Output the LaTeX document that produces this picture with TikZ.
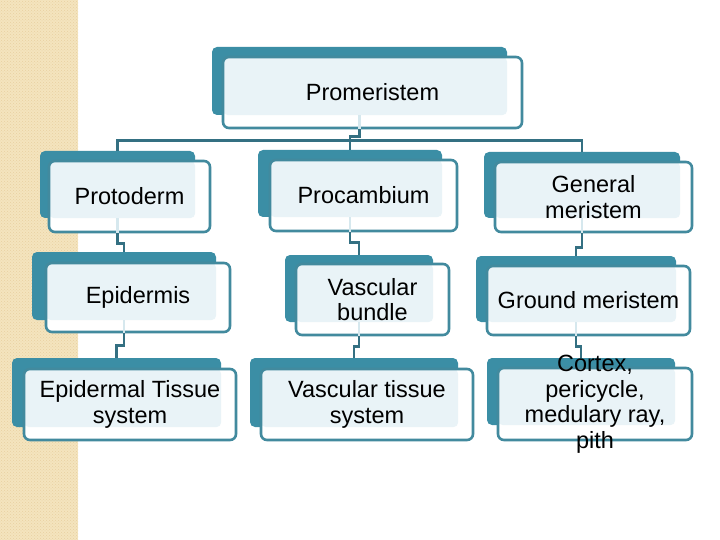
\documentclass[tikz,border=0pt]{standalone}
\usepackage{fontspec}
\setmainfont{Liberation Sans}
\usetikzlibrary{fit,patterns}
\definecolor{tealback}{RGB}{59,142,165}
\definecolor{tealedge}{RGB}{66,138,158}
\definecolor{connc}{RGB}{52,112,130}
\definecolor{lightfill}{RGB}{233,243,247}
\definecolor{palec}{RGB}{214,232,238}
\definecolor{stripc}{RGB}{244,228,190}
\definecolor{stripdot}{RGB}{232,208,160}
\tikzset{
  backbox/.style={fill=tealback, rounded corners=5pt, inner sep=0pt, draw=none},
  frontbox/.style={draw=tealedge, line width=2.6pt, rounded corners=6pt, inner sep=0pt},
  txt/.style={font=\fontsize{23.5}{25.5}\selectfont, align=center, inner sep=0pt},
  conn/.style={draw=connc, line width=2.6pt},
  paleconn/.style={draw=palec, line width=2.6pt},
}
\newcommand\tbox[6]{%
  \node[backbox, fit={(#2)(#3)}] (#1B) {};
  \fill[white, rounded corners=6pt] (#4) rectangle (#5);
  \fill[lightfill, rounded corners=5pt] (#4) rectangle (#1B.south east);
  \node[frontbox, fit={(#4)(#5)}] (#1F) {};
  \node[txt] (#1) at (#1F.center) {#6};
}
\begin{document}
\begin{tikzpicture}[x=1pt,y=-1pt]
\useasboundingbox (0,0) rectangle (720,540);
\fill[white] (0,0) rectangle (720,540);
\fill[stripc] (0,0) rectangle (78,540);
\fill[pattern=crosshatch dots, pattern color=stripdot] (0,0) rectangle (78,540);

\tbox{prom}{212,47}{507,115}{223,57}{522,128}{Promeristem}

\tbox{prot}{40,151}{195,218}{49,161}{210,232}{Protoderm}
\tbox{proc}{258,150}{442,217}{270,160}{457,231}{Procambium}
\tbox{gen}{484,152}{680,218}{495,162}{692,232}{General\\meristem}

\tbox{epi}{32,252}{216,320}{46,263}{230,332}{Epidermis}
\tbox{vb}{285,255}{433,322}{296,264}{449,335}{Vascular\\bundle}
\tbox{gm}{476,256}{676,322}{487,266}{690,335}{Ground meristem}

\tbox{ets}{12,358}{221,427}{24,369}{236,440}{Epidermal Tissue\\system}
\tbox{vts}{250,358}{458,427}{261,369}{473,440}{Vascular tissue\\system}
\tbox{cor}{487,358}{675,425}{498,368}{692,440}{Cortex,\\pericycle,\\medulary ray,\\pith}

% connectors
\foreach \n in {prom,prot,proc,gen,epi,vb,gm}{
  \draw[paleconn] (\n B.south) -- (\n B.south |- \n F.south);
}
\draw[conn] (promB.south |- promF.south) -- ++(0,7) -| (procB.north);
\draw[conn] (protB.north) -- ++(0,-10) -| (genB.north);

\draw[conn] (protB.south |- protF.south) -- ++(0,10) -| (epiB.north);
\draw[conn] (procB.south |- procF.south) -- ++(0,10) -| (vbB.north);
\draw[conn] (genB.south |- genF.south) -- ++(0,14) -| (gmB.north);

\draw[conn] (epiB.south |- epiF.south) -- ++(0,12) -| (etsB.north);
\draw[conn] (vbB.south |- vbF.south) -- ++(0,10) -| (vtsB.north);
\draw[conn] (gmB.south |- gmF.south) -- ++(0,10) -| (corB.north);
\end{tikzpicture}
\end{document}
